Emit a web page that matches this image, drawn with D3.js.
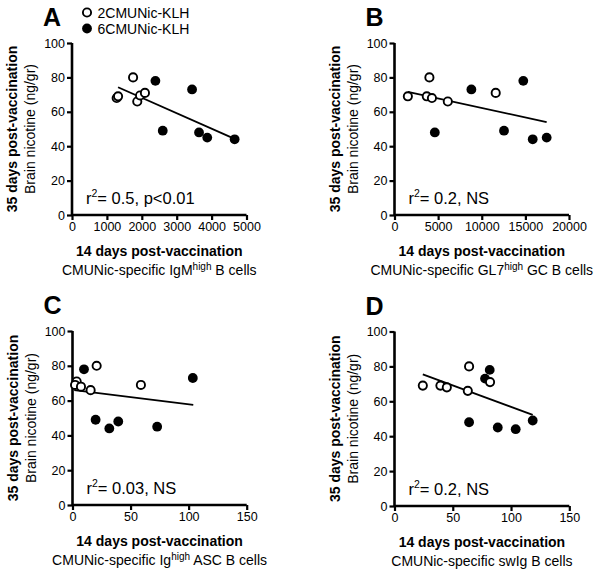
<!DOCTYPE html>
<html>
<head>
<meta charset="utf-8">
<script src="https://cdn.jsdelivr.net/npm/d3@7"></script>
<style>
  html, body { margin: 0; padding: 0; background: #fff; }
  svg { display: block; font-family: "Liberation Sans", Arial, Helvetica, sans-serif; }
</style>
</head>
<body>
<svg id="chart" width="601" height="574"></svg>
<script>
// ---------------- DATA ----------------
const seriesNames = ["2CMUNic-KLH", "6CMUNic-KLH"];
const yTicks = [0, 20, 40, 60, 80, 100];

// Panel A: IgM high B cells
const aOpenX = [1280, 1320, 1750, 1870, 1950, 2090];
const aOpenY = [68, 69, 80, 66, 69.5, 71];
const aFillX = [2390, 2600, 3440, 3640, 3875, 4660];
const aFillY = [78, 49, 73, 48, 45, 44];
const aFit = [[1320, 74.3], [4660, 44.3]];
const aXTicks = [0, 1000, 2000, 3000, 4000, 5000];

// Panel B: GL7 high GC B cells
const bOpenX = [1530, 3700, 4000, 4290, 6110, 11600];
const bOpenY = [69, 69, 80, 68, 66, 71];
const bFillX = [4620, 8810, 12550, 14760, 15840, 17440];
const bFillY = [48, 73, 49, 78, 44, 45];
const bFit = [[1530, 71.6], [17440, 54]];
const bXTicks = [0, 5000, 10000, 15000, 20000];

// Panel C: Ig high ASC B cells
const cOpenX = [3.6, 2.2, 7.3, 15.6, 20.8, 58.9];
const cOpenY = [71, 69, 68, 66, 80, 69];
const cFillX = [9.9, 19.9, 31.7, 39.4, 72.9, 103.6];
const cFillY = [78, 49, 44, 48, 45, 73];
const cFit = [[1.5, 66], [104, 57.5]];
const cXTicks = [0, 50, 100, 150];

// Panel D: swIg B cells
const dOpenX = [24.3, 39.4, 44.9, 62.9, 64, 82];
const dOpenY = [69, 69, 68, 66, 80, 71];
const dFillX = [77.7, 81.7, 64, 88.6, 104, 118.6];
const dFillY = [73, 78, 48, 45, 44, 49];
const dFit = [[24.3, 75.4], [118.6, 52.2]];
const dXTicks = [0, 50, 100, 150];

const panelLetters = ["A", "B", "C", "D"];
const statTexts = [["0.5, p<0.01"], ["0.2, NS"], ["0.03, NS"], ["0.2, NS"]];
const xTitle = "14 days post-vaccination";
const yTitleBold = "35 days post-vaccination";
const yTitle = "Brain nicotine (ng/gr)";
// subtitle parts: [before, superscript, after]
const xSubtitles = [
  ["CMUNic-specific IgM", "high", " B cells"],
  ["CMUNic-specific GL7", "high", " GC B cells"],
  ["CMUNic-specific Ig", "high", " ASC B cells"],
  ["CMUNic-specific swIg B cells", "", ""]
];

// ---------------- LAYOUT ----------------
const panels = [
  { left: 72,    top: 43,  w: 174.5, h: 172, xMax: 5000,  ticks: aXTicks, ox: aOpenX, oy: aOpenY, fx: aFillX, fy: aFillY, fit: aFit },
  { left: 394.5, top: 43,  w: 174.5, h: 172, xMax: 20000, ticks: bXTicks, ox: bOpenX, oy: bOpenY, fx: bFillX, fy: bFillY, fit: bFit },
  { left: 72.5,  top: 331, w: 174.2, h: 174, xMax: 150,   ticks: cXTicks, ox: cOpenX, oy: cOpenY, fx: cFillX, fy: cFillY, fit: cFit },
  { left: 394.5, top: 331.5, w: 174.8, h: 174.5, xMax: 150, ticks: dXTicks, ox: dOpenX, oy: dOpenY, fx: dFillX, fy: dFillY, fit: dFit }
];

const svg = d3.select("#chart");

panels.forEach((p, i) => {
  const x = d3.scaleLinear().domain([0, p.xMax]).range([p.left, p.left + p.w]);
  const y = d3.scaleLinear().domain([0, 100]).range([p.top + p.h, p.top]);
  const g = svg.append("g");

  // axes
  const xAxis = d3.axisBottom(x).tickValues(p.ticks).tickSize(5).tickPadding(2).tickFormat(d3.format("d"));
  const yAxis = d3.axisLeft(y).tickValues(yTicks).tickSize(5).tickPadding(2);

  const gx = g.append("g").attr("transform", `translate(0,${p.top + p.h})`).call(xAxis);
  const gy = g.append("g").attr("transform", `translate(${p.left},0)`).call(yAxis);
  [gx, gy].forEach(a => {
    a.select(".domain").attr("stroke", "#000").attr("stroke-width", 2.6);
    a.selectAll(".tick line").attr("stroke", "#000").attr("stroke-width", 2.2);
    a.selectAll(".tick text").attr("fill", "#000").attr("font-size", 12.5)
      .attr("font-family", "'Liberation Sans', Arial, sans-serif");
  });
  // domain lines without end caps
  gx.select(".domain").attr("d", `M${p.left},0H${p.left + p.w}`);
  gy.select(".domain").attr("d", `M0,${p.top}V${p.top + p.h}`);
  gx.selectAll(".tick text").attr("dy", "0.72em");

  // fit line
  g.append("line")
    .attr("x1", x(p.fit[0][0])).attr("y1", y(p.fit[0][1]))
    .attr("x2", x(p.fit[1][0])).attr("y2", y(p.fit[1][1]))
    .attr("stroke", "#000").attr("stroke-width", 1.8);

  // filled points
  g.selectAll("circle.f").data(p.fx.map((v, k) => [v, p.fy[k]])).enter()
    .append("circle").attr("class", "f")
    .attr("cx", d => x(d[0])).attr("cy", d => y(d[1])).attr("r", 4.9)
    .attr("fill", "#000");
  // open points
  g.selectAll("circle.o").data(p.ox.map((v, k) => [v, p.oy[k]])).enter()
    .append("circle").attr("class", "o")
    .attr("cx", d => x(d[0])).attr("cy", d => y(d[1])).attr("r", 4.1)
    .attr("fill", "#fff").attr("stroke", "#000").attr("stroke-width", 1.9);

  // panel letter
  g.append("text").attr("x", p.left - 29).attr("y", p.top - 17)
    .attr("font-size", 25).attr("font-weight", "bold").text(panelLetters[i]);

  // stat text
  const st = g.append("text").attr("x", p.left + 14).attr("y", p.top + p.h - 11.5)
    .attr("font-size", 16.5);
  st.append("tspan").text("r");
  st.append("tspan").attr("font-size", 10.5).attr("dy", -6.5).text("2");
  st.append("tspan").attr("dy", 6.5).text("= " + statTexts[i][0]);

  // y titles
  const cy = p.top + p.h / 2;
  g.append("text").attr("transform", `translate(${p.left - 55},${cy}) rotate(-90)`)
    .attr("text-anchor", "middle").attr("font-size", 14).attr("font-weight", "bold")
    .text(yTitleBold);
  g.append("text").attr("transform", `translate(${p.left - 37},${cy}) rotate(-90)`)
    .attr("text-anchor", "middle").attr("font-size", 14)
    .text(yTitle);

  // x titles
  const cx = p.left + p.w / 2;
  g.append("text").attr("x", cx).attr("y", p.top + p.h + 41)
    .attr("text-anchor", "middle").attr("font-size", 14).attr("font-weight", "bold")
    .text(xTitle);
  const sub = g.append("text").attr("x", cx).attr("y", p.top + p.h + 60)
    .attr("text-anchor", "middle").attr("font-size", 14);
  sub.append("tspan").text(xSubtitles[i][0]);
  if (xSubtitles[i][1]) {
    sub.append("tspan").attr("font-size", 10).attr("dy", -5).text(xSubtitles[i][1]);
    sub.append("tspan").attr("dy", 5).text(xSubtitles[i][2]);
  }
});

// legend
const legend = svg.append("g");
seriesNames.forEach((name, k) => {
  const ly = 12.5 + k * 16;
  const c = legend.append("circle").attr("cx", 87).attr("cy", ly);
  if (k === 0) c.attr("r", 4.1).attr("fill", "#fff").attr("stroke", "#000").attr("stroke-width", 1.9);
  else c.attr("r", 4.9).attr("fill", "#000");
  legend.append("text").attr("x", 97.5).attr("y", ly + 5).attr("font-size", 14).text(name);
});
</script>
</body>
</html>
